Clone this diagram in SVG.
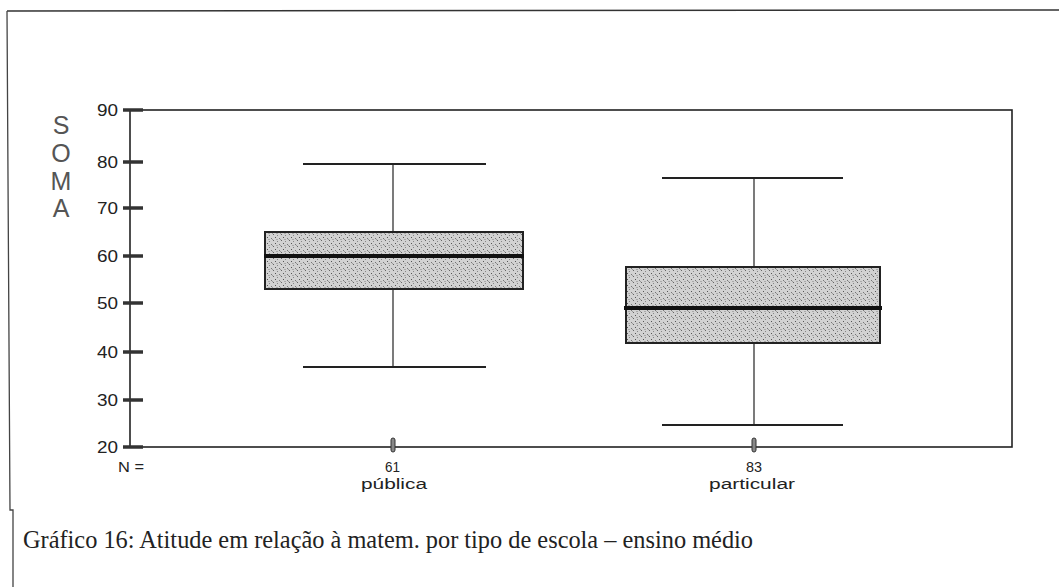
<svg xmlns="http://www.w3.org/2000/svg" width="1059" height="587" viewBox="0 0 1059 587">
<style>
.frame{fill:none;stroke:#222;stroke-width:1.6}
.tick{stroke:#333;stroke-width:3.5}
.ax{font-family:"Liberation Sans",Arial,sans-serif;font-size:16px;fill:#222}
.sm{font-family:"Liberation Sans",Arial,sans-serif;font-size:14px;fill:#222}
.num{font-family:"Liberation Sans",Arial,sans-serif;font-size:15px;fill:#222}
.soma{font-family:"Liberation Sans",Arial,sans-serif;font-size:25px;fill:#555;text-anchor:middle}
.cap{font-family:"Liberation Serif","Times New Roman",serif;font-size:26px;fill:#222}
.whisk{stroke:#222;stroke-width:2}
.stem{stroke:#333;stroke-width:1.3}
.box{fill:url(#stip);stroke:#222;stroke-width:2}
.med{stroke:#111;stroke-width:4}
</style>
<defs>
<pattern id="stip" width="8" height="6" patternUnits="userSpaceOnUse">
<rect width="8" height="6" fill="#d2d2d2"/>
<rect x="1" y="0" width="1" height="1" fill="#666"/>
<rect x="5" y="1" width="1" height="1" fill="#888"/>
<rect x="3" y="3" width="1" height="1" fill="#555"/>
<rect x="7" y="4" width="1" height="1" fill="#777"/>
<rect x="0" y="5" width="1" height="1" fill="#999"/>
<rect x="4" y="5" width="2" height="1" fill="#aaa"/>
</pattern>
</defs>
<rect width="1059" height="587" fill="#fff"/>
<g id="outer">
<line x1="7" y1="11" x2="1059" y2="10" stroke="#333" stroke-width="1.5"/>
<polyline points="7,11 10,510 13,510 13,587" fill="none" stroke="#444" stroke-width="1.3"/>
</g>
<g id="plot-frame">
<rect x="130" y="110" width="882" height="337" class="frame"/>
</g>
<g id="y-axis">
<g class="tick">
<line x1="123" y1="110" x2="143" y2="110"/>
<line x1="123" y1="162" x2="143" y2="162"/>
<line x1="123" y1="208" x2="143" y2="208"/>
<line x1="123" y1="256" x2="143" y2="256"/>
<line x1="123" y1="303" x2="143" y2="303"/>
<line x1="123" y1="352" x2="143" y2="352"/>
<line x1="123" y1="400" x2="143" y2="400"/>
<line x1="123" y1="447" x2="143" y2="447"/>
</g>
<g class="ax">
<text x="97" y="116" textLength="21" lengthAdjust="spacingAndGlyphs">90</text>
<text x="97" y="168" textLength="21" lengthAdjust="spacingAndGlyphs">80</text>
<text x="97" y="214" textLength="21" lengthAdjust="spacingAndGlyphs">70</text>
<text x="97" y="262" textLength="21" lengthAdjust="spacingAndGlyphs">60</text>
<text x="97" y="309" textLength="21" lengthAdjust="spacingAndGlyphs">50</text>
<text x="97" y="358" textLength="21" lengthAdjust="spacingAndGlyphs">40</text>
<text x="97" y="406" textLength="21" lengthAdjust="spacingAndGlyphs">30</text>
<text x="97" y="453" textLength="21" lengthAdjust="spacingAndGlyphs">20</text>
</g>
<g id="soma-label">
<text class="soma" x="61" y="134">S</text>
<text class="soma" x="61" y="162">O</text>
<text class="soma" x="61" y="190">M</text>
<text class="soma" x="61" y="217">A</text>
</g>
</g>
<g id="box-publica">
<line class="stem" x1="393" y1="164" x2="393" y2="367"/>
<line class="whisk" x1="303" y1="164" x2="486" y2="164"/>
<line class="whisk" x1="303" y1="367" x2="486" y2="367"/>
<rect class="box" x="265" y="232" width="258" height="57"/>
<line class="med" x1="264" y1="256" x2="524" y2="256"/>
</g>
<g id="box-particular">
<line class="stem" x1="754" y1="178" x2="754" y2="425"/>
<line class="whisk" x1="662" y1="178" x2="843" y2="178"/>
<line class="whisk" x1="662" y1="425" x2="843" y2="425"/>
<rect class="box" x="626" y="267" width="254" height="76"/>
<line class="med" x1="624" y1="308" x2="882" y2="308"/>
</g>
<g id="x-axis">
<rect x="391" y="438" width="4" height="14" rx="2" fill="#888" stroke="#333" stroke-width="1"/>
<rect x="752" y="438" width="4" height="14" rx="2" fill="#888" stroke="#333" stroke-width="1"/>
<text class="sm" x="118" y="472" textLength="26" lengthAdjust="spacingAndGlyphs">N =</text>
<text class="num" x="385" y="472" textLength="15" lengthAdjust="spacingAndGlyphs">61</text>
<text class="num" x="746" y="472" textLength="16" lengthAdjust="spacingAndGlyphs">83</text>
<text class="sm" x="361" y="489" textLength="66" lengthAdjust="spacingAndGlyphs">pública</text>
<text class="sm" x="709" y="489" textLength="86" lengthAdjust="spacingAndGlyphs">particular</text>
</g>
<g id="caption">
<text class="cap" x="23" y="548" textLength="730" lengthAdjust="spacingAndGlyphs">Gráfico 16: Atitude em relação à matem. por tipo de escola – ensino médio</text>
</g>
</svg>
